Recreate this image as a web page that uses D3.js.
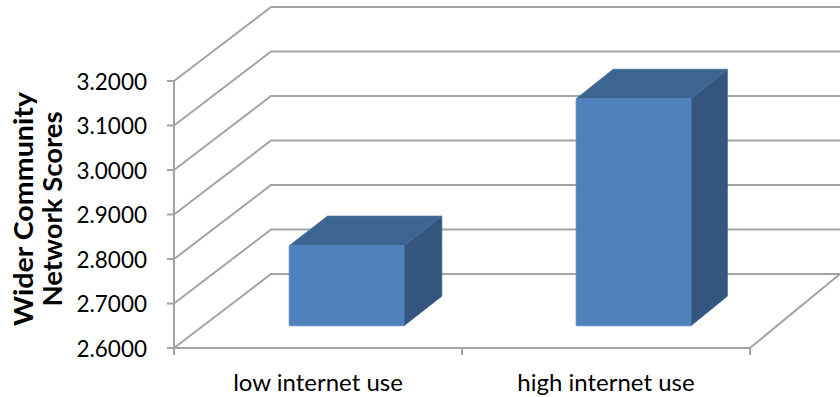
<!DOCTYPE html>
<html>
<head>
<meta charset="utf-8">
<script src="https://cdn.jsdelivr.net/npm/d3@7"></script>
<style>
  html, body { margin: 0; padding: 0; background: #fff; }
  svg { display: block; }
  text { font-family: Lato, "Open Sans", sans-serif; fill: #000; }
</style>
</head>
<body>
<svg id="chart" width="840" height="397"></svg>
<script>
// Data
const categories = ["low internet use", "high internet use"];
const scores = [2.78, 3.11];
const yTicks = [2.6, 2.7, 2.8, 2.9, 3.0, 3.1, 3.2];
const yTitleLines = ["Wider Community", "Network Scores"];

const svg = d3.select("#chart");

// Front plane of the 3D box
const x0 = 174, x1 = 750;
const y = d3.scaleLinear().domain([2.6, 3.2]).range([348, 81]);

// Oblique depth projection (slight perspective: depth shift shrinks to the right)
const depthDY = -74;
const depthDX = x => 97 - 7 * (x - x0) / (x1 - x0);
const proj = (x, yy, d) => [x + d * depthDX(x), yy + d * depthDY];

const catBand = d3.scaleBand().domain(categories).range([x0, x1]);
const barBand = d3.scaleBand().domain(categories).range([x0, x1])
  .paddingInner(0.6).paddingOuter(0.3);

const gridColor = "#a3a3a3";
const line = d3.line();

// Side wall + back wall gridlines
const grid = svg.append("g").attr("fill", "none").attr("stroke", gridColor).attr("stroke-width", 2);
yTicks.forEach(v => {
  const a = [x0, y(v)];
  const b = proj(x0, y(v), 1);
  const c = [proj(x1, y(v), 1)[0] + 10, b[1]];
  grid.append("path").attr("d", line([a, b, c]));
});

// Floor edges
grid.append("path").attr("d", line([[x0, y(2.6)], [x1, y(2.6)]]));
grid.append("path").attr("d", line([[x1, y(2.6)], proj(x1, y(2.6), 1)]));

// Value axis
grid.append("path").attr("d", line([[x0, y(3.2)], [x0, y(2.6)]]));
yTicks.forEach(v => {
  grid.append("path").attr("d", line([[x0 - 7, y(v)], [x0, y(v)]]));
});
// Category ticks
[x0, x0 + catBand.step(), x1].forEach(xx => {
  grid.append("path").attr("d", line([[xx, y(2.6)], [xx, y(2.6) + 7]]));
});

// Bars (front, side, top faces)
const dFront = 0.3, dBack = 0.7;
const bars = svg.append("g");
categories.forEach((c, i) => {
  const v = scores[i];
  const xl = barBand(c), xr = xl + barBand.bandwidth();
  const yt = y(v), yb = y(2.6);
  const fTL = proj(xl, yt, dFront), fTR = proj(xr, yt, dFront);
  const fBL = proj(xl, yb, dFront), fBR = proj(xr, yb, dFront);
  const bTL = proj(xl, yt, dBack), bTR = proj(xr, yt, dBack);
  const bBR = proj(xr, yb, dBack);
  const face = (pts, fill, stroke) => bars.append("path")
    .attr("d", line(pts) + "Z").attr("fill", fill)
    .attr("stroke", stroke).attr("stroke-width", 0.8).attr("stroke-linejoin", "round");
  face([fTR, bTR, bBR, fBR], "#33557e", "#3b5f8a");
  face([fTL, bTL, bTR, fTR], "#3d6591", "#46709f");
  face([fTL, fTR, fBR, fBL], "#4f81bd", "#5b88bf");
});

// Tick labels
svg.append("g").selectAll("text").data(yTicks).join("text")
  .attr("x", 147).attr("y", d => y(d))
  .attr("text-anchor", "end").attr("dominant-baseline", "central")
  .style("font-size", "22.5px")
  .text(d => d.toFixed(4));

// Category labels
svg.append("g").selectAll("text").data(categories).join("text")
  .attr("x", d => catBand(d) + catBand.bandwidth() / 2).attr("y", 381)
  .attr("text-anchor", "middle").attr("dominant-baseline", "central")
  .style("font-size", "24px")
  .text(d => d);

// Axis title (two rotated lines)
const titleLen = [234, 195];
const titleBase = [33, 62];
yTitleLines.forEach((t, i) => {
  svg.append("text")
    .attr("transform", `translate(${titleBase[i]},209) rotate(-90)`)
    .attr("text-anchor", "middle")
    .attr("textLength", titleLen[i]).attr("lengthAdjust", "spacingAndGlyphs")
    .style("font-size", "27px").style("font-weight", "bold")
    .text(t);
});
</script>
</body>
</html>
